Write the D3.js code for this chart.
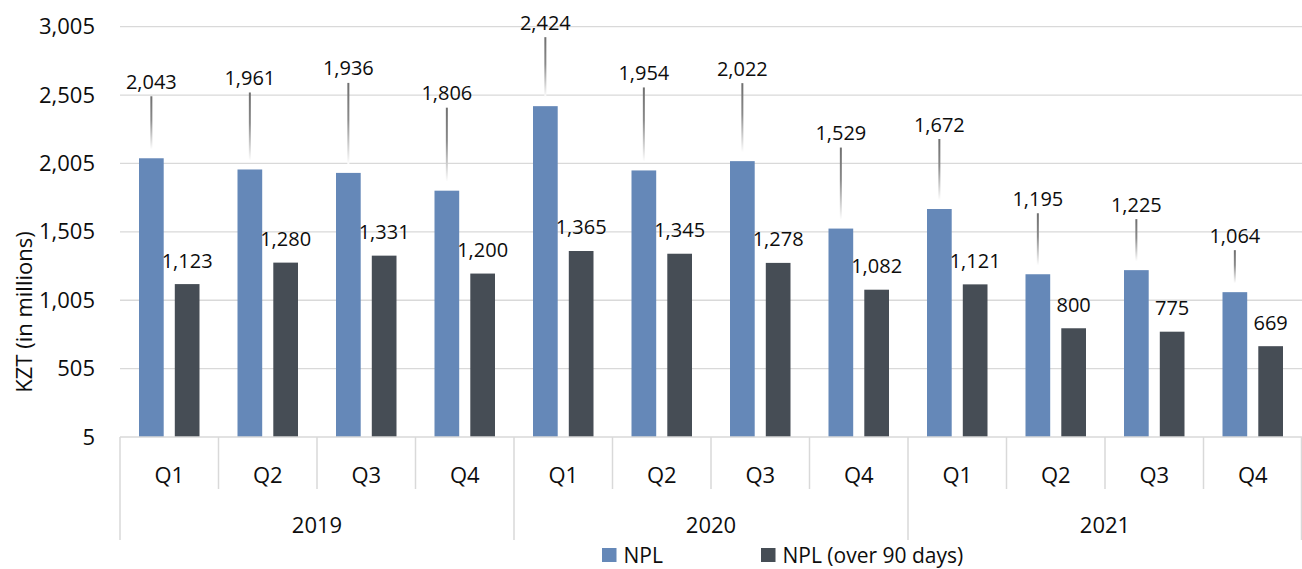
<!DOCTYPE html>
<html>
<head>
<meta charset="utf-8">
<script src="https://cdn.jsdelivr.net/npm/d3@7"></script>
<style>
  html, body { margin: 0; padding: 0; background: #fff; }
  svg { display: block; font-family: "Open Sans", "Noto Sans", sans-serif; }
</style>
</head>
<body>
<svg id="chart" width="1302" height="569"></svg>
<script>
// Quarterly non-performing loans, KZT millions
const years = ["2019", "2020", "2021"];
const quarters = ["Q1", "Q2", "Q3", "Q4"];
const npl = [2043, 1961, 1936, 1806, 2424, 1954, 2022, 1529, 1672, 1195, 1225, 1064];
const npl90 = [1123, 1280, 1331, 1200, 1365, 1345, 1278, 1082, 1121, 800, 775, 669];
const yTicks = [5, 505, 1005, 1505, 2005, 2505, 3005];
const seriesNames = ["NPL", "NPL (over 90 days)"];

// Layout: how far each NPL callout sits above its bar (px)
const nplCalloutLift = [77, 92, 105, 98, 84, 98, 93, 96, 85, 76, 66, 57];

const colors = { "NPL": "#6588b8", "NPL (over 90 days)": "#464d55" };
const grid = "#d9d9d9";
const ink = "#0d0d0d";

const svg = d3.select("#chart");
const plotL = 120, plotR = 1302, plotT = 26.7, plotB = 437;

const rows = [];
years.forEach((yr, yi) => quarters.forEach((q, qi) => {
  const i = yi * 4 + qi;
  rows.push({ key: yr + "-" + q, year: yr, quarter: q, i,
              values: { "NPL": npl[i], "NPL (over 90 days)": npl90[i] } });
}));

const x0 = d3.scaleBand().domain(rows.map(d => d.key)).range([plotL, plotR]).padding(0);
const bw = x0.bandwidth();
const x1 = d3.scaleBand().domain(seriesNames).range([19, bw - 19]).paddingInner(0.31);
const y = d3.scaleLinear().domain([5, 3005]).range([plotB, plotT]);
const fmt = d3.format(",");

// Gridlines
svg.append("g").selectAll("line").data(yTicks.slice(1)).join("line")
  .attr("x1", plotL).attr("x2", plotR)
  .attr("y1", d => y(d)).attr("y2", d => y(d))
  .attr("stroke", grid).attr("stroke-width", 1.3);

// Y axis labels
const yAxis = svg.append("g").attr("transform", `translate(${plotL},0)`)
  .call(d3.axisLeft(y).tickValues(yTicks).tickFormat(fmt).tickSize(0).tickPadding(25));
yAxis.select(".domain").remove();
yAxis.selectAll("text").attr("font-size", 22).attr("fill", ink)
  .attr("font-family", "'Open Sans', sans-serif");

svg.append("text")
  .attr("transform", "translate(23,312) rotate(-90)")
  .attr("text-anchor", "middle").attr("dominant-baseline", "central")
  .attr("font-size", 22).attr("fill", ink)
  .text("KZT (in millions)");

// Bars
const groups = svg.append("g").selectAll("g").data(rows).join("g")
  .attr("transform", d => `translate(${x0(d.key)},0)`);
groups.selectAll("rect").data(d => seriesNames.map(s => ({ s, v: d.values[s] }))).join("rect")
  .attr("x", d => x1(d.s)).attr("width", x1.bandwidth())
  .attr("y", d => y(d.v)).attr("height", d => y(5) - y(d.v))
  .attr("fill", d => colors[d.s]);

// Leader lines + NPL callouts
const defs = svg.append("defs");
rows.forEach(d => {
  const cx = x0(d.key) + x1("NPL") + x1.bandwidth() / 2;
  const barTop = y(d.values["NPL"]);
  const ly = barTop - nplCalloutLift[d.i];
  const y1 = ly + 15, y2 = barTop - 9;
  const id = "lead" + d.i;
  const g = defs.append("linearGradient").attr("id", id)
    .attr("gradientUnits", "userSpaceOnUse")
    .attr("x1", cx).attr("x2", cx).attr("y1", y1).attr("y2", y2);
  g.append("stop").attr("offset", "0%").attr("stop-color", "#6f6f6f");
  g.append("stop").attr("offset", "45%").attr("stop-color", "#8a8a8a");
  g.append("stop").attr("offset", "100%").attr("stop-color", "#ffffff");
  svg.append("line").attr("x1", cx).attr("x2", cx).attr("y1", y1).attr("y2", y2)
    .attr("stroke", `url(#${id})`).attr("stroke-width", 2);
  svg.append("text").attr("x", cx).attr("y", ly)
    .attr("text-anchor", "middle").attr("dominant-baseline", "central")
    .attr("font-size", 20).attr("fill", ink)
    .text(fmt(d.values["NPL"]));
});

// Over-90-days value labels
svg.append("g").selectAll("text").data(rows).join("text")
  .attr("x", d => x0(d.key) + x1("NPL (over 90 days)") + x1.bandwidth() / 2)
  .attr("y", d => y(d.values["NPL (over 90 days)"]) - 24)
  .attr("text-anchor", "middle").attr("dominant-baseline", "central")
  .attr("font-size", 20).attr("fill", ink)
  .text(d => fmt(d.values["NPL (over 90 days)"]));

// Category axis: baseline, quarter and year dividers
const cat = svg.append("g");
cat.append("line").attr("x1", plotL).attr("x2", plotR).attr("y1", plotB).attr("y2", plotB)
  .attr("stroke", grid).attr("stroke-width", 1.5);
rows.forEach(d => {
  const xs = x0(d.key);
  const isYearStart = d.quarter === "Q1";
  cat.append("line").attr("x1", xs).attr("x2", xs).attr("y1", plotB)
    .attr("y2", isYearStart ? 540 : 489)
    .attr("stroke", grid).attr("stroke-width", 1.5);
  cat.append("text").attr("x", xs + bw / 2).attr("y", 474)
    .attr("text-anchor", "middle").attr("dominant-baseline", "central")
    .attr("font-size", 22).attr("fill", ink).text(d.quarter);
});
cat.append("line").attr("x1", plotR - 0.5).attr("x2", plotR - 0.5).attr("y1", plotB).attr("y2", 540)
  .attr("stroke", grid).attr("stroke-width", 1.5);
years.forEach(yr => {
  const a = x0(yr + "-Q1"), b = x0(yr + "-Q4") + bw;
  cat.append("text").attr("x", (a + b) / 2).attr("y", 524)
    .attr("text-anchor", "middle").attr("dominant-baseline", "central")
    .attr("font-size", 22).attr("fill", ink).text(yr);
});

// Legend
const legendX = [602, 761];
const lg = svg.append("g").selectAll("g").data(seriesNames).join("g")
  .attr("transform", (d, i) => `translate(${legendX[i]},548)`);
lg.append("rect").attr("width", 14.5).attr("height", 14).attr("fill", d => colors[d]);
lg.append("text").attr("x", 21.5).attr("y", 6.5).attr("dominant-baseline", "central")
  .attr("font-size", 21).attr("fill", ink).text(d => d);
</script>
</body>
</html>
